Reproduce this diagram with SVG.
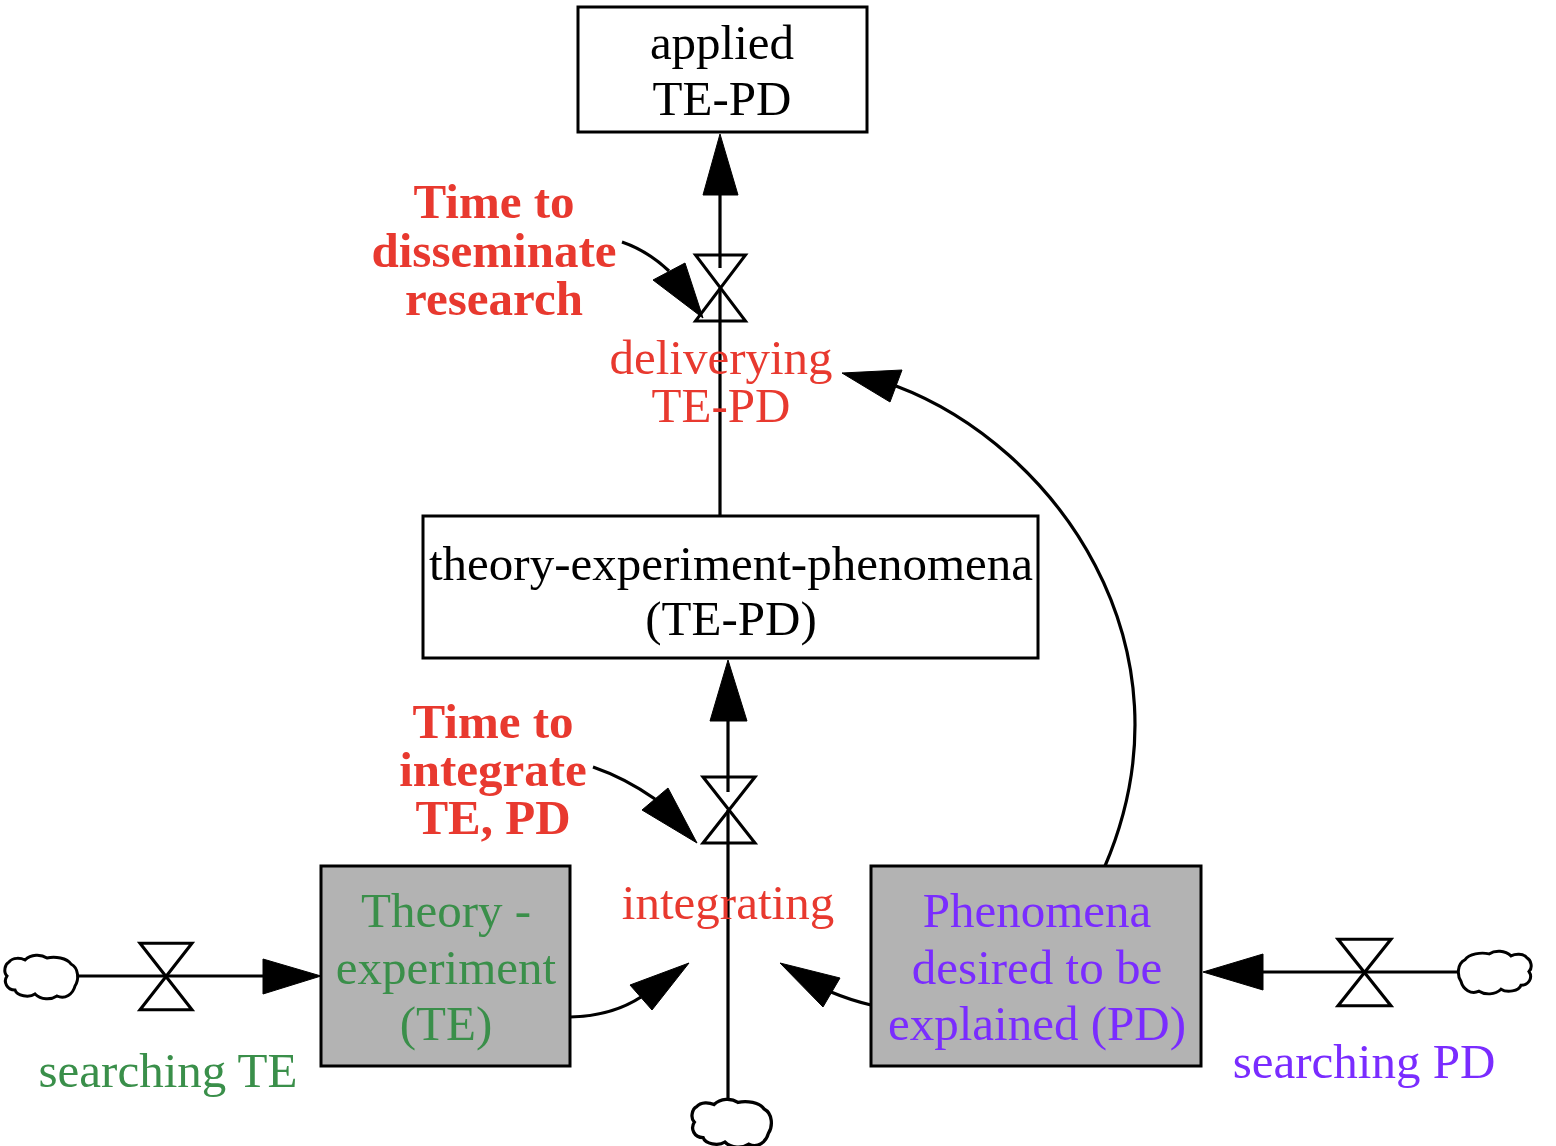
<svg xmlns="http://www.w3.org/2000/svg" xmlns:xlink="http://www.w3.org/1999/xlink" width="1556" height="1146" viewBox="0 0 1556 1146">
<style>
text{font-family:"Liberation Serif","Times New Roman",serif;font-size:49px;text-anchor:middle}
.red{fill:#e8392f}
.bold{font-weight:bold}
.green{fill:#3a8f4a}
.purple{fill:#7a2cff}
.black{fill:#000}
.box{fill:#fff;stroke:#000;stroke-width:3}
.stock{fill:#b3b3b3;stroke:#000;stroke-width:3}
.ln{fill:none;stroke:#000;stroke-width:3.2}
.ah{fill:#000;stroke:#000;stroke-width:1}
.valve{fill:none;stroke:#000;stroke-width:3;stroke-linejoin:miter}
.cloud{fill:#fff;stroke:#000;stroke-width:3}
</style>
<defs>
<path id="valve" d="M -25,-33 L 25,-33 L -25,33 L 25,33 Z"/>
<path id="cloud" d="M 6,8 C 10,3 18,4 22,6 C 28,0 38,0 44,4 C 52,2 64,4 68,10 C 76,14 76,26 72,32 C 70,40 62,46 54,42 C 48,46 38,46 32,40 C 26,44 14,42 12,36 C 4,36 0,28 4,22 C 0,18 2,10 6,8 Z"/>
</defs>

<g id="connectors">
  <line class="ln" x1="720" y1="195" x2="720" y2="268"/>
  <line class="ln" x1="720" y1="288" x2="720" y2="516"/>
  <polygon class="ah" points="720,134 703,195 738,195"/>
  <line class="ln" x1="728" y1="721" x2="728" y2="792"/>
  <line class="ln" x1="728" y1="810" x2="728" y2="1100"/>
  <polygon class="ah" points="728,660 710,721 747,721"/>
  <line class="ln" x1="76" y1="976" x2="264" y2="976"/>
  <polygon class="ah" points="321,976 263,959 263,994"/>
  <line class="ln" x1="1262" y1="972" x2="1459" y2="972"/>
  <polygon class="ah" points="1203,972 1263,954 1263,990"/>
  <path class="ln" d="M 622,242 Q 648,251 669,271"/>
  <polygon class="ah" points="703,318 653,280 685,263"/>
  <path class="ln" d="M 593,767 Q 625,778 655,799"/>
  <polygon class="ah" points="697,843 642,810 668,788"/>
  <path class="ln" d="M 570,1017 Q 612,1016 641,997"/>
  <polygon class="ah" points="689,963 630,985 652,1010"/>
  <path class="ln" d="M 871,1005 Q 850,1000 831,992"/>
  <polygon class="ah" points="780,963 823,1007 840,978"/>
  <path class="ln" d="M 1105,866 C 1199.6,645 1054,445.5 896,386"/>
  <polygon class="ah" points="842,373 890,402 902,370"/>
</g>

<g id="valve-delivering">
  <use xlink:href="#valve" class="valve" transform="translate(720.5,288)"/>
  <text class="red" x="721" y="374">deliverying</text>
  <text class="red" x="721" y="422">TE-PD</text>
</g>
<g id="valve-integrating">
  <use xlink:href="#valve" class="valve" transform="translate(729,810) scale(1.04,1)"/>
  <text class="red" x="728" y="919">integrating</text>
</g>
<g id="valve-searching-te">
  <use xlink:href="#valve" class="valve" transform="translate(166,976.5) scale(1.04,1.01)"/>
  <text class="green" x="168" y="1087">searching TE</text>
</g>
<g id="valve-searching-pd">
  <use xlink:href="#valve" class="valve" transform="translate(1364.5,972.5) scale(1.06,1.01)"/>
  <text class="purple" x="1364" y="1078">searching PD</text>
</g>

<g id="cloud-left"><use xlink:href="#cloud" class="cloud" transform="translate(3,954)"/></g>
<g id="cloud-right"><use xlink:href="#cloud" class="cloud" transform="translate(1533,950) scale(-1,0.98)"/></g>
<g id="cloud-bottom"><use xlink:href="#cloud" class="cloud" transform="translate(690,1098) scale(1.09,1.1)"/></g>

<g id="applied-te-pd">
  <rect class="box" x="578" y="7" width="289" height="125"/>
  <text class="black" x="722" y="59">applied</text>
  <text class="black" x="722" y="115">TE-PD</text>
</g>
<g id="te-pd">
  <rect class="box" x="423" y="516" width="615" height="142"/>
  <text class="black" x="731" y="580">theory-experiment-phenomena</text>
  <text class="black" x="731" y="635">(TE-PD)</text>
</g>
<g id="te">
  <rect class="stock" x="321" y="866" width="249" height="200"/>
  <text class="green" x="446" y="927">Theory -</text>
  <text class="green" x="446" y="984">experiment</text>
  <text class="green" x="446" y="1040">(TE)</text>
</g>
<g id="pd">
  <rect class="stock" x="871" y="866" width="330" height="200"/>
  <text class="purple" x="1037" y="927">Phenomena</text>
  <text class="purple" x="1037" y="984">desired to be</text>
  <text class="purple" x="1037" y="1040">explained (PD)</text>
</g>
<g id="time-to-disseminate">
  <text class="red bold" x="494" y="218">Time to</text>
  <text class="red bold" x="494" y="267">disseminate</text>
  <text class="red bold" x="494" y="315">research</text>
</g>
<g id="time-to-integrate">
  <text class="red bold" x="493" y="738">Time to</text>
  <text class="red bold" x="493" y="786">integrate</text>
  <text class="red bold" x="493" y="834">TE, PD</text>
</g>
</svg>
